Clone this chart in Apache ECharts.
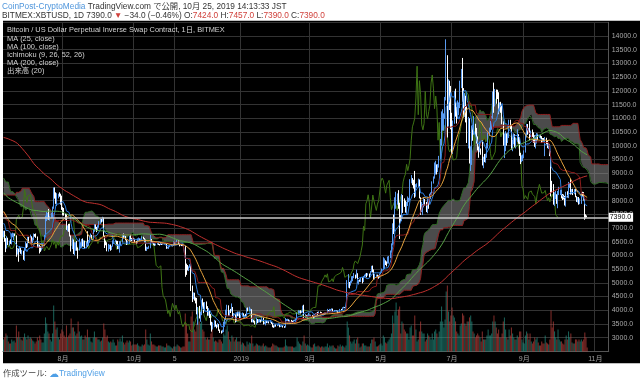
<!DOCTYPE html>
<html><head><meta charset="utf-8">
<script src="https://cdn.jsdelivr.net/npm/echarts/dist/echarts.min.js"></script>
<style>html,body{margin:0;padding:0;background:#fff;}#c{width:640px;height:382px;}</style>
</head><body><div id="c"></div>
<script>
// ---- closes before the visible window (for MA / Ichimoku warm-up), 2017-11-23 .. 2018-06-10
const pre2017_11 = [8100,8250,8750,9300,9700,9950,9900,9850];
const pre2017_12 = [10850,10900,11300,11600,11700,13700,16800,16000,14800,15100,16700,17200,16400,16600,17600,19400,19100,18900,17700,16500,15600,13800,14600,13900,13800,15700,15400,14400,14400,12600,13900];
const pre2018_01 = [13400,14700,15100,15100,17100,17200,16200,14900,14400,14900,13300,13900,14200,13600,13600,11400,11200,11500,11800,12900,11500,10900,11000,11400,11200,11100,11500,11800,11200,10100,10200];
const pre2018_02 = [9100,8800,9200,8200,6900,7700,7600,8300,8700,8500,8100,8900,8500,9500,10000,10200,11100,10400,11200,11400,10500,9900,10300,9700,9600,10300,10600,10300];
const pre2018_03 = [10900,11000,11400,11500,11400,10700,9900,9300,9200,8800,9500,9100,9100,8200,8200,8300,7900,8200,8600,8900,8900,8700,8900,8500,8400,8100,7800,7900,7100,6900,6900];
const pre2018_04 = [6800,7000,7400,6800,6800,6600,6900,7000,6800,6800,6900,7900,7900,8000,8300,8000,7900,8200,8300,8900,8900,8800,8900,9600,8900,9200,8900,9300,9400,9200];
const pre2018_05 = [9100,9200,9700,9700,9800,9600,9300,9200,9300,9000,8400,8500,8700,8700,8500,8300,8100,8200,8200,8500,8400,8000,7500,7600,7500,7400,7300,7100,7450,7400,7500];
const pre2018_06 = [7500,7650,7700,7500,7600,7650,7700,7650,7500,6750];

// ---- visible daily rows: [close, high, low, volume]  (open = previous close)
const jun2018 = [[6860,6900,6660,12],[6540,6900,6500,14],[6300,6630,6120,18],[6640,6700,6250,16],[6400,6640,6380,10],[6490,6540,6360,8],[6450,6590,6420,8],[6710,6800,6400,12],[6740,6830,6660,10],[6760,6810,6560,11],[6720,6800,6700,9],[6050,6730,5950,26],[6170,6270,6030,14],[6150,6250,5770,20],[6250,6340,6120,14],[6080,6280,6060,12],[6130,6200,6030,11],[5870,6170,5840,14],[6200,6280,5800,18],[6390,6500,6170,14]];
const jul2018 = [[6350,6440,6270,12],[6620,6680,6300,16],[6500,6680,6450,13],[6590,6760,6450,14],[6530,6700,6460,13],[6600,6650,6450,11],[6760,6800,6550,10],[6720,6780,6680,8],[6660,6800,6640,10],[6300,6690,6280,14],[6390,6410,6280,11],[6250,6390,6070,16],[6220,6340,6130,12],[6260,6320,6180,9],[6350,6400,6250,9],[6730,6750,6340,18],[7320,7450,6680,34],[7380,7590,7250,28],[7470,7550,7300,20],[7330,7690,7300,18],[7400,7450,7270,12],[7400,7560,7360,10],[7720,7780,7370,18],[8400,8480,7700,46],[8170,8480,8070,30],[7930,8300,7880,22],[8180,8270,7800,24],[8230,8250,8080,14],[8210,8300,8140,12],[8180,8250,7850,18],[7730,8180,7660,22]];
const aug2018 = [[7620,7760,7460,20],[7520,7730,7450,16],[7420,7530,7300,14],[7010,7500,6930,26],[7040,7090,6880,14],[6950,7150,6860,16],[6720,7150,6690,18],[6290,6730,6140,33],[6550,6620,6230,24],[6160,6580,6050,24],[6250,6480,6000,20],[6330,6480,6170,16],[6270,6530,6170,18],[6200,6290,5880,30],[6300,6620,6180,20],[6390,6480,6250,15],[6580,6600,6300,16],[6400,6620,6330,12],[6500,6550,6310,12],[6260,6540,6250,16],[6480,6510,6260,14],[6370,6880,6320,22],[6530,6560,6350,14],[6700,6730,6460,14],[6740,6800,6670,10],[6710,6750,6570,9],[6910,6950,6650,14],[7070,7140,6860,20],[7030,7130,6950,14],[6980,7040,6850,14],[7030,7100,6920,12]];
const sep2018 = [[7190,7250,7010,12],[7280,7340,7150,10],[7260,7330,7200,11],[7360,7410,7230,14],[6700,7380,6680,28],[6480,6720,6270,22],[6410,6540,6370,14],[6190,6480,6150,16],[6250,6420,6140,10],[6300,6390,6230,9],[6280,6400,6170,10],[6320,6350,6200,9],[6480,6550,6320,12],[6490,6590,6420,9],[6520,6570,6480,6],[6500,6540,6400,6],[6250,6530,6230,12],[6350,6400,6230,10],[6380,6520,6100,13],[6480,6520,6360,10],[6740,6780,6470,16],[6700,6800,6620,9],[6700,6760,6650,7],[6580,6710,6550,9],[6430,6580,6380,11],[6450,6540,6400,9],[6670,6720,6420,11],[6630,6780,6530,10],[6590,6640,6520,6],[6610,6640,6540,7]];
const oct2018 = [[6590,6640,6540,7],[6510,6610,6480,7],[6460,6530,6420,7],[6570,6620,6440,8],[6610,6650,6530,6],[6580,6620,6540,5],[6590,6610,6540,5],[6660,6700,6570,7],[6630,6680,6600,6],[6560,6630,6480,7],[6220,6580,6170,22],[6260,6320,6160,12],[6270,6300,6230,7],[6290,6350,6240,6],[6580,6750,6260,18],[6490,6600,6460,10],[6470,6520,6440,7],[6410,6500,6370,7],[6380,6440,6350,6],[6400,6430,6360,5],[6410,6460,6390,5],[6400,6440,6380,6],[6380,6420,6360,6],[6420,6470,6380,6],[6400,6430,6380,5],[6410,6440,6390,5],[6420,6450,6400,4],[6420,6440,6400,4],[6280,6430,6240,8],[6280,6310,6250,6],[6320,6340,6240,6]];
const nov2018 = [[6360,6380,6300,5],[6380,6410,6340,4],[6360,6390,6330,3],[6480,6510,6350,5],[6410,6490,6380,5],[6460,6480,6390,5],[6540,6560,6440,7],[6430,6560,6400,6],[6370,6450,6330,5],[6390,6400,6360,4],[6380,6400,6340,4],[6370,6420,6340,5],[6320,6380,6300,5],[5640,6340,5220,38],[5600,5700,5290,28],[5550,5650,5450,18],[5570,5600,5430,10],[5620,5680,5550,10],[4830,5630,4700,35],[4530,4900,4300,40],[4600,4650,4400,30],[4380,4640,4350,22],[4320,4470,4250,20],[3880,4450,3850,28],[4000,4120,3470,36],[3770,4160,3700,30],[3840,3950,3580,28],[4250,4370,3820,30],[4240,4430,4100,22],[4010,4290,3900,20]];
const dec2018 = [[4190,4300,3960,14],[4120,4320,4050,12],[3860,4150,3800,14],[3960,4080,3800,12],[3750,3980,3720,12],[3500,3860,3450,18],[3400,3580,3220,24],[3410,3560,3300,14],[3580,3650,3380,10],[3450,3620,3400,11],[3400,3480,3340,10],[3480,3530,3380,9],[3280,3500,3250,12],[3220,3300,3170,12],[3200,3260,3150,10],[3230,3290,3180,8],[3500,3580,3200,18],[3660,3680,3400,16],[3780,4020,3640,22],[4100,4200,3780,26],[3850,4180,3800,20],[3990,4010,3800,12],[3970,4050,3900,10],[4090,4250,3960,16],[3830,4120,3720,14],[3840,3900,3750,10],[3620,3850,3560,12],[3880,3910,3580,14],[3820,3950,3780,10],[3930,3950,3780,10],[3720,3950,3680,10]];
const jan2019 = [[3820,3840,3650,7],[3880,3920,3770,9],[3780,3890,3740,8],[3800,3830,3720,6],[3790,3870,3770,5],[4040,4090,3770,10],[3990,4100,3960,7],[3990,4130,3960,9],[4000,4060,3970,8],[3620,4040,3560,16],[3630,3700,3560,8],[3600,3650,3550,5],[3500,3620,3480,6],[3660,3730,3480,8],[3580,3680,3530,7],[3610,3670,3550,6],[3650,3680,3560,6],[3600,3660,3550,5],[3700,3780,3590,6],[3530,3730,3480,8],[3540,3580,3500,5],[3590,3630,3450,6],[3560,3620,3530,5],[3580,3610,3540,4],[3560,3600,3520,4],[3560,3640,3540,4],[3530,3580,3500,5],[3430,3530,3380,8],[3390,3450,3360,7],[3450,3480,3380,6],[3440,3490,3400,6]];
const feb2019 = [[3460,3490,3420,5],[3500,3520,3440,4],[3420,3510,3380,4],[3420,3450,3390,4],[3440,3460,3400,4],[3400,3460,3370,4],[3380,3420,3360,5],[3640,3720,3370,12],[3640,3680,3600,6],[3660,3690,3610,5],[3600,3670,3590,5],[3620,3650,3560,5],[3600,3650,3570,5],[3580,3620,3550,5],[3600,3650,3570,4],[3630,3660,3600,4],[3660,3700,3610,5],[3880,3930,3650,14],[3910,4000,3840,10],[3960,3990,3880,8],[3920,4000,3880,7],[3950,3980,3900,6],[4130,4170,3920,10],[3740,4200,3720,16],[3800,3860,3720,8],[3780,3830,3740,6],[3790,3840,3680,7],[3800,3900,3770,6]];
const mar2019 = [[3820,3850,3790,5],[3820,3840,3780,4],[3790,3830,3760,4],[3710,3800,3680,7],[3860,3870,3690,8],[3870,3900,3840,5],[3880,3910,3850,5],[3870,3940,3830,6],[3940,3960,3860,5],[3920,3950,3890,4],[3870,3930,3850,5],[3880,3900,3830,5],[3870,3900,3850,4],[3870,3920,3830,5],[3910,3930,3860,5],[4000,4050,3900,8],[3980,4010,3950,4],[3980,4050,3950,6],[4020,4040,3970,5],[4040,4070,4000,6],[3990,4060,3950,6],[3990,4010,3970,4],[3990,4010,3970,3],[3980,4000,3960,3],[3920,3990,3880,6],[3930,3950,3900,5],[4040,4050,3920,7],[4020,4050,4000,5],[4100,4110,4010,6],[4110,4130,4070,5],[4100,4120,4080,4]];
const apr2019 = [[4130,4160,4080,6],[4890,5100,4120,30],[4960,5320,4820,24],[4900,5030,4800,16],[5040,5080,4900,10],[5060,5240,5000,8],[5190,5250,5060,10],[5290,5360,5170,12],[5200,5300,5150,8],[5330,5480,5180,12],[5040,5350,4980,14],[5080,5100,4940,8],[5070,5120,5040,4],[5150,5180,5030,5],[5040,5200,4980,8],[5220,5250,5030,8],[5240,5300,5200,6],[5290,5340,5230,6],[5280,5360,5200,5],[5330,5350,5260,5],[5290,5340,5200,5],[5390,5430,5270,8],[5560,5620,5380,12],[5430,5630,5380,12],[5200,5490,5100,14],[5260,5330,5120,10],[5270,5300,5220,5],[5230,5300,5200,5],[5200,5270,5150,6],[5320,5340,5180,7]];
const may2019 = [[5380,5410,5320,8],[5480,5520,5370,6],[5720,5930,5460,16],[5800,5890,5500,14],[5730,5820,5650,9],[5700,5780,5600,8],[5770,5960,5700,10],[5950,5980,5700,12],[6170,6180,5900,14],[6380,6440,6100,18],[7060,7170,6370,36],[6910,7490,6780,28],[7880,8120,6860,40],[7990,8320,7700,49],[8210,8260,7850,36],[7920,8380,7700,42],[7360,7920,6600,45],[7300,7470,7230,18],[8200,8240,7250,30],[7980,8180,7550,28],[7950,8080,7770,22],[7640,8000,7560,20],[7870,7950,7520,18],[7990,8150,7800,18],[8050,8100,7940,12],[8710,8780,7970,24],[8820,8930,8630,26],[8730,8820,8560,16],[8660,8760,8440,16],[8270,9080,8100,36],[8560,8600,8140,22]];
const jun2019 = [[8560,8630,8480,10],[8740,8800,8500,12],[8120,8770,8080,20],[7670,8120,7480,30],[7790,7950,7580,20],[7800,7870,7470,18],[8000,8130,7750,18],[7930,8060,7820,10],[7640,7950,7580,12],[8010,8070,7540,18],[7920,8030,7700,16],[8150,8250,7860,14],[8240,8300,8050,12],[8680,8700,8200,18],[8850,8880,8620,12],[8970,9390,8800,20],[9320,9450,8950,22],[9090,9300,8950,18],[9280,9330,9040,14],[9530,9630,9200,20],[10200,10250,9500,30],[10690,11250,10000,45],[10830,11330,10550,30],[11010,11180,10550,24],[11740,11780,10980,32],[12900,13880,11650,60],[11130,13300,10300,66],[12370,12420,10700,40],[11880,12250,11300,30],[10760,12180,10600,36]];
const jul2019 = [[10580,11200,9680,44],[10810,10920,9700,36],[11980,12000,10800,34],[11150,12080,11060,30],[10980,11420,10810,20],[11250,11650,10980,18],[11480,11580,11120,16],[12290,12370,11370,26],[12580,12800,12100,28],[12100,13200,11600,38],[11350,12100,11030,36],[11810,11920,11050,28],[11380,11820,10850,26],[10200,11450,10100,30],[10850,11050,9900,30],[9440,11000,9350,34],[9690,9980,9080,36],[10630,10740,9300,30],[10530,10750,10180,20],[10750,11080,10400,18],[10590,10800,10350,14],[10330,10650,10080,16],[9880,10340,9830,18],[9770,9970,9560,16],[9880,10150,9760,14],[9840,9900,9670,10],[9480,10190,9280,20],[9530,9600,9180,12],[9500,9700,9400,12],[9580,9710,9380,12],[10080,10100,9560,16]];
const aug2019 = [[10400,10480,9900,22],[10520,10660,10350,16],[10820,10900,10500,16],[10980,11080,10580,18],[11800,11980,10980,30],[11470,12300,11200,36],[11990,12070,11430,30],[11970,12050,11530,24],[11850,12040,11700,18],[11350,11950,11150,22],[11540,11580,11250,14],[11380,11600,11200,14],[10860,11470,10780,18],[10020,10890,10000,30],[10300,10450,9550,34],[10360,10530,9800,22],[10230,10450,10000,14],[10320,10480,10100,12],[10900,10950,10280,22],[10760,10950,10600,16],[10130,10760,9860,24],[10130,10230,9800,18],[10400,10450,10050,14],[10140,10420,9950,12],[10140,10300,9900,12],[10370,10600,10150,16],[10200,10420,10070,14],[9720,10300,9630,20],[9480,9740,9330,20],[9580,9650,9400,12],[9600,9680,9440,9]];
const sep2019 = [[9770,9830,9550,8],[10390,10450,9750,16],[10620,10800,10300,20],[10580,10790,10400,18],[10580,10650,10450,12],[10320,10900,10200,18],[10490,10550,10310,10],[10390,10590,10320,8],[10320,10490,10100,10],[10110,10380,9960,14],[10170,10290,9900,12],[10420,10460,10080,14],[10360,10440,10200,9],[10360,10400,10280,6],[10310,10380,10250,6],[10270,10350,10100,10],[10240,10280,10150,8],[10180,10280,10130,8],[10270,10320,9620,16],[10180,10290,10060,9],[9980,10200,9910,8],[10030,10100,9880,7],[9690,10050,9620,12],[8530,9810,8150,41],[8430,8720,8300,24],[8070,8600,7850,30],[8180,8300,7800,20],[8210,8350,8050,14],[8040,8230,7880,12],[8300,8350,7720,22]];
const oct2019 = [[8300,8500,8200,12],[8350,8390,8200,10],[8230,8380,8080,10],[8160,8240,8020,8],[8150,8220,8040,7],[7870,8170,7820,12],[8210,8320,7780,16],[8200,8340,8110,12],[8590,8680,8090,20],[8590,8630,8460,14],[8270,8800,8220,18],[8340,8420,8230,9],[8290,8430,8200,8],[8370,8420,8230,8],[8160,8420,8120,12],[8000,8160,7950,12],[8100,8130,7930,10],[7950,8130,7850,12],[7960,8080,7870,10],[8230,8290,7880,12],[8220,8320,8150,10],[8030,8310,8000,12],[7470,8050,7300,19],[7424,7500,7350,14],[7390,7457,7390,4]];

// ---- axis ticks
const tickDates  = ['2018-08-01','2018-10-01','2018-11-05','2019-01-01','2019-03-01','2019-05-01','2019-07-01','2019-09-01','2019-11-01'];
const tickLabels = ['8月','10月','5','2019','3月','5月','7月','9月','11月'];
const lastPrice = 7390;
const futureDays = 18;

// ---- build
const preCloses = [].concat(pre2017_11,pre2017_12,pre2018_01,pre2018_02,pre2018_03,pre2018_04,pre2018_05,pre2018_06);
const rows = [].concat(jun2018,jul2018,aug2018,sep2018,oct2018,nov2018,dec2018,jan2019,feb2019,mar2019,apr2019,may2019,jun2019,jul2019,aug2019,sep2019,oct2019);
const P = preCloses.length, N = rows.length, T = N + futureDays, G = P + N;
const closeAll = preCloses.concat(rows.map(r => r[0]));
const highAll  = preCloses.concat(rows.map(r => r[1]));
const lowAll   = preCloses.concat(rows.map(r => r[2]));

const dates = [];
const d0 = Date.UTC(2018, 5, 11);
for (let j = 0; j < T; j++) dates.push(new Date(d0 + j * 86400000).toISOString().slice(0, 10));

const candles = rows.map((r, i) => {
  const o = closeAll[P + i - 1], c = r[0];
  return [o, c, Math.min(r[2], o, c), Math.max(r[1], o, c)];
});
const volumes = rows.map((r, i) => ({
  value: r[3],
  itemStyle: { color: candles[i][1] >= candles[i][0] ? 'rgba(38,150,135,0.62)' : 'rgba(200,70,65,0.62)' }
}));

function sma(n) {
  const out = [];
  for (let j = 0; j < T; j++) {
    const g = P + j;
    if (j >= N || g - n + 1 < 0) { out.push(null); continue; }
    let s = 0; for (let k = g - n + 1; k <= g; k++) s += closeAll[k];
    out.push(+(s / n).toFixed(1));
  }
  return out;
}
function mid(g, n) {
  if (g - n + 1 < 0 || g >= G) return null;
  let hi = -Infinity, lo = Infinity;
  for (let k = g - n + 1; k <= g; k++) { hi = Math.max(hi, highAll[k]); lo = Math.min(lo, lowAll[k]); }
  return (hi + lo) / 2;
}
const tenkan = [], kijun = [], spanA = [], spanB = [], chikou = [], cBase = [], cBand = [];
for (let j = 0; j < T; j++) {
  const g = P + j;
  tenkan.push(j < N ? mid(g, 9) : null);
  kijun.push(j < N ? mid(g, 26) : null);
  const g0 = g - 25;
  const t = mid(g0, 9), k = mid(g0, 26), b = mid(g0, 52);
  const a = (t != null && k != null) ? (t + k) / 2 : null;
  spanA.push(a); spanB.push(b);
  chikou.push(g + 25 < G ? closeAll[g + 25] : null);
  if (a != null && b != null) { cBase.push(Math.min(a, b)); cBand.push(Math.abs(a - b)); }
  else { cBase.push(null); cBand.push(null); }
}

const FONT = "'Liberation Sans','Noto Sans CJK JP',sans-serif";
const line = (name, data, color, z, w) => ({
  name, type: 'line', data, symbol: 'none', z: z || 4, silent: true,
  lineStyle: { color, width: w || 1 }
});
const legendText = (t, y) => ({ type: 'text', x: 7, y, z: 100, silent: true, style: { text: t, fill: '#d2d2d2', font: '7.4px ' + FONT, verticalAlign: 'middle' } });

const chart = echarts.init(document.getElementById('c'), null, { renderer: 'canvas' });
chart.setOption({
  animation: false,
  backgroundColor: '#ffffff',
  textStyle: { fontFamily: FONT },
  grid: { left: 3, right: 29, top: 22.3, bottom: 30.6 },
  xAxis: {
    type: 'category', data: dates, boundaryGap: true,
    axisLine: { show: true, lineStyle: { color: '#555' } },
    axisTick: { show: false },
    axisLabel: {
      interval: (i, v) => tickDates.indexOf(v) >= 0,
      formatter: v => { const k = tickDates.indexOf(v); return k >= 0 ? tickLabels[k] : ''; },
      color: '#a0a0a0', fontSize: 7, margin: 4, fontFamily: FONT
    },
    splitLine: { show: true, interval: (i, v) => tickDates.indexOf(v) >= 0, lineStyle: { color: '#333', width: 1 } }
  },
  yAxis: [{
    type: 'value', position: 'right', min: 2500, max: 14500, interval: 500,
    axisLine: { show: true, lineStyle: { color: '#555' } },
    axisTick: { show: false },
    axisLabel: {
      color: '#a8a8a8', fontSize: 7, margin: 3, fontFamily: FONT,
      formatter: v => (v <= 2500 || v >= 14500) ? '' : v.toFixed(1)
    },
    splitLine: { show: true, lineStyle: { color: '#333', width: 1 } }
  }, {
    type: 'value', min: 0, max: 329, show: false, splitLine: { show: false }
  }],
  graphic: [
    { type: 'rect', z: -10, silent: true, shape: { x: 3, y: 20.7, width: 637, height: 342.5 }, style: { fill: '#000' } },
    { type: 'text', x: 2, y: 7, z: 100, silent: true, style: {
      text: '{a|CoinPost-CryptoMedia}{b| TradingView.com で公開, 10月 25, 2019 14:13:33 JST}',
      font: '8.3px ' + FONT, verticalAlign: 'middle',
      rich: { a: { fill: '#4f96dc', color: '#4f96dc', fontSize: 8.3, fontFamily: FONT }, b: { fill: '#333', color: '#333', fontSize: 8.3, fontFamily: FONT } }
    } },
    { type: 'text', x: 2, y: 15.5, z: 100, silent: true, style: {
      text: '{b|BITMEX:XBTUSD, 1D 7390.0 }{r|▼}{b| −34.0 (−0.46%) O:}{r|7424.0}{b| H:}{r|7457.0}{b| L:}{r|7390.0}{b| C:}{r|7390.0}',
      font: '8.3px ' + FONT, verticalAlign: 'middle',
      rich: { b: { fill: '#333', color: '#333', fontSize: 8.3, fontFamily: FONT }, r: { fill: '#d0413b', color: '#d0413b', fontSize: 8.3, fontFamily: FONT } }
    } },
    legendText('Bitcoin / US Dollar Perpetual Inverse Swap Contract, 1日, BITMEX', 30),
    legendText('MA (25, close)', 39.3),
    legendText('MA (100, close)', 47.3),
    legendText('Ichimoku (9, 26, 52, 26)', 55.3),
    legendText('MA (200, close)', 63.3),
    legendText('出来高 (20)', 71.3),
    { type: 'text', x: 3, y: 374, z: 100, silent: true, style: {
      text: '{g|作成ツール: }{c|☁}{t|TradingView}', font: '8.3px ' + FONT, verticalAlign: 'middle',
      rich: { g: { fill: '#444', color: '#444', fontSize: 8.3, fontFamily: FONT }, c: { fill: '#4f9fe6', color: '#4f9fe6', fontSize: 10, fontFamily: "'DejaVu Sans'" }, t: { fill: '#4f9fe6', color: '#4f9fe6', fontSize: 8.3, fontFamily: FONT } }
    } }
  ],
  series: [
    { name: 'vol', type: 'bar', data: volumes, yAxisIndex: 1, barCategoryGap: '8%', z: 1, silent: true },
    { name: 'cloudBase', type: 'line', data: cBase, stack: 'cloud', symbol: 'none', z: 1, silent: true, lineStyle: { opacity: 0 } },
    { name: 'cloudBand', type: 'line', data: cBand, stack: 'cloud', symbol: 'none', z: 1, silent: true, lineStyle: { opacity: 0 }, areaStyle: { color: 'rgba(150,150,150,0.5)', opacity: 1 } },
    line('spanA', spanA, '#2f6a25', 2),
    line('spanB', spanB, '#8c1f1f', 2),
    line('chikou', chikou, '#3e7414', 2),
    {
      name: 'price', type: 'candlestick', data: candles, z: 3, barWidth: 1, silent: true,
      itemStyle: { color: '#5a9bf0', color0: '#ffffff', borderColor: '#5a9bf0', borderColor0: '#ffffff', borderWidth: 1 },
      markLine: {
        silent: true, symbol: 'none', z: 10,
        lineStyle: { color: '#c8c8c8', width: 1.6, type: 'solid' },
        label: { show: true, position: 'end', distance: 0, formatter: lastPrice.toFixed(1), color: '#000', backgroundColor: '#fff', fontSize: 7, padding: [1, 2, 1, 1], fontFamily: FONT },
        data: [{ yAxis: lastPrice }]
      }
    },
    line('tenkan', tenkan, '#2d7fe0', 4),
    line('kijun', kijun, '#8a1a1a', 4),
    line('MA25', sma(25), '#e8a33d', 5),
    line('MA100', sma(100), '#56a045', 5),
    line('MA200', sma(200), '#c0302e', 5)
  ]
});
</script></body></html>
